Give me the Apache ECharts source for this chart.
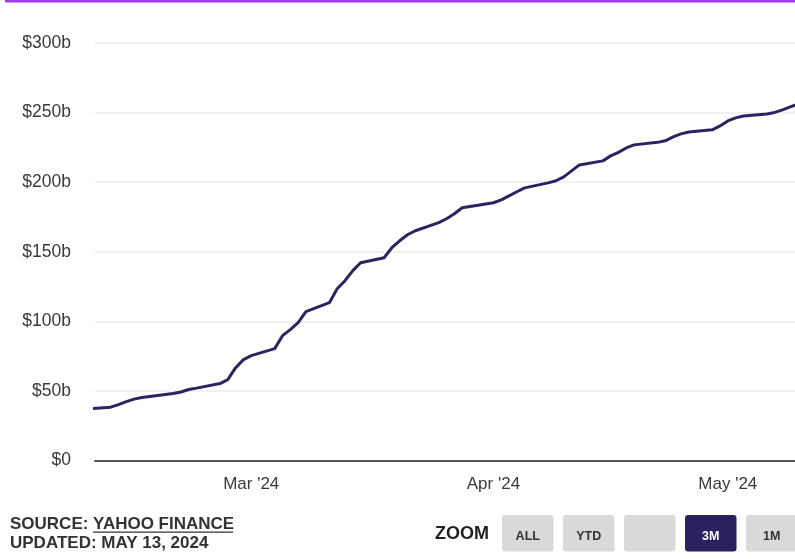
<!DOCTYPE html>
<html>
<head>
<meta charset="utf-8">
<script src="https://cdn.jsdelivr.net/npm/echarts@6/dist/echarts.min.js"></script>
<style>
  html, body { margin: 0; padding: 0; background: #fff; }
  #chart { width: 795px; height: 559px; }
</style>
</head>
<body>
<div id="chart"></div>
<script>
// ---- data (cumulative value, $ billions) ----
const dates = [
  '2024-02-09','2024-02-12','2024-02-13','2024-02-14','2024-02-15','2024-02-16',
  '2024-02-20','2024-02-21','2024-02-22','2024-02-23',
  '2024-02-26','2024-02-27','2024-02-28','2024-02-29','2024-03-01',
  '2024-03-04','2024-03-05','2024-03-06','2024-03-07','2024-03-08',
  '2024-03-11','2024-03-12','2024-03-13','2024-03-14','2024-03-15',
  '2024-03-18','2024-03-19','2024-03-20','2024-03-21','2024-03-22',
  '2024-03-25','2024-03-26','2024-03-27','2024-03-28',
  '2024-04-01','2024-04-02','2024-04-03','2024-04-04','2024-04-05',
  '2024-04-08','2024-04-09','2024-04-10','2024-04-11','2024-04-12',
  '2024-04-15','2024-04-16','2024-04-17','2024-04-18','2024-04-19',
  '2024-04-22','2024-04-23','2024-04-24','2024-04-25','2024-04-26',
  '2024-04-29','2024-04-30','2024-05-01','2024-05-02','2024-05-03',
  '2024-05-06','2024-05-07','2024-05-08','2024-05-09','2024-05-10'
];
const values = [
  37.0, 38.3, 40.2, 42.3, 44.1, 45.2,
  48.1, 49.2, 51.0, 52.0,
  55.3, 58.1, 66.7, 72.5, 75.4,
  80.4, 89.7, 94.0, 99.0, 107.0,
  113.4, 123.4, 129.2, 136.4, 142.1,
  145.7, 152.9, 157.9, 162.2, 165.1,
  170.9, 173.7, 177.3, 181.6,
  185.2, 187.3, 190.2, 193.1, 195.9,
  199.5, 201.0, 203.8, 208.1, 212.4,
  215.3, 218.9, 221.4, 224.6, 226.8,
  228.6, 229.7, 232.5, 234.7, 236.1,
  237.6, 240.4, 244.0, 246.2, 247.6,
  249.0, 250.1, 252.0, 254.1, 256.2
];
const xTickDates = ['2024-03-01', '2024-04-01', '2024-05-01'];
const xTickLabels = ["Mar '24", "Apr '24", "May '24"];
const yTicks = [0, 50, 100, 150, 200, 250, 300];
const zoomButtons = ['ALL', 'YTD', '', '3M', '1M'];
const activeButton = '3M';

const ts = d => new Date(d + 'T00:00:00Z').getTime();
const DAY = 86400000;
const xTickValues = xTickDates.map(ts);

const axisFont = 'Liberation Sans, Arial, sans-serif';
const lineColor = '#2c2460';

const graphics = [
  { type: 'rect', shape: { x: 5, y: 0, width: 790, height: 2.5 }, style: { fill: '#a43be8' } },
  { type: 'text', x: 10, y: 524, style: { text: 'SOURCE: YAHOO FINANCE', fill: '#333', font: 'bold 17px Liberation Sans, Arial, sans-serif', textVerticalAlign: 'middle' } },
  { type: 'rect', shape: { x: 93, y: 531.5, width: 140, height: 1.2 }, style: { fill: '#333' } },
  { type: 'text', x: 10, y: 543, style: { text: 'UPDATED: MAY 13, 2024', fill: '#333', font: 'bold 17px Liberation Sans, Arial, sans-serif', textVerticalAlign: 'middle' } },
  { type: 'text', x: 435, y: 534, style: { text: 'ZOOM', fill: '#222', font: 'bold 18px Liberation Sans, Arial, sans-serif', textVerticalAlign: 'middle' } }
];
const btnX = [502, 563, 624, 685, 746];
zoomButtons.forEach((b, i) => {
  const active = b === activeButton;
  graphics.push({ type: 'rect', shape: { x: btnX[i], y: 515, width: 51.5, height: 36.5, r: 3 },
    style: { fill: active ? '#2c2160' : '#d9d9d9' } });
  if (b) graphics.push({ type: 'text', x: btnX[i] + 25.75, y: 537, style: { text: b, fill: active ? '#fff' : '#333',
    font: 'bold 12.5px Liberation Sans, Arial, sans-serif', textAlign: 'center', textVerticalAlign: 'middle' } });
});

const chart = echarts.init(document.getElementById('chart'), null, { renderer: 'canvas' });
chart.setOption({
  animation: false,
  backgroundColor: '#fff',
  grid: { left: 95, right: 0, top: 43, bottom: 98.5, containLabel: false },
  xAxis: {
    type: 'value',
    min: ts('2024-02-10'),
    max: ts('2024-05-09') + 0.6 * DAY,
    axisLine: { show: true, lineStyle: { color: '#555', width: 2 } },
    axisTick: { show: false },
    splitLine: { show: false },
    axisLabel: {
      customValues: xTickValues,
      formatter: v => xTickLabels[xTickValues.indexOf(v)] || '',
      color: '#3a3a3a', fontFamily: axisFont, fontSize: 17, margin: 15
    }
  },
  yAxis: {
    type: 'value',
    min: yTicks[0], max: yTicks[yTicks.length - 1], interval: 50,
    axisLine: { show: false },
    axisTick: { show: false },
    splitLine: { show: true, lineStyle: { color: '#ececec', width: 1.5 } },
    axisLabel: {
      formatter: v => '$' + v + (v === 0 ? '' : 'b'),
      color: '#3a3a3a', fontFamily: axisFont, fontSize: 17.5, margin: 24
    }
  },
  series: [{
    type: 'line',
    data: dates.map((d, i) => [ts(d), values[i]]),
    showSymbol: false,
    smooth: false,
    clip: true,
    lineStyle: { color: lineColor, width: 3 }
  }],
  graphic: graphics
});
</script>
</body>
</html>
